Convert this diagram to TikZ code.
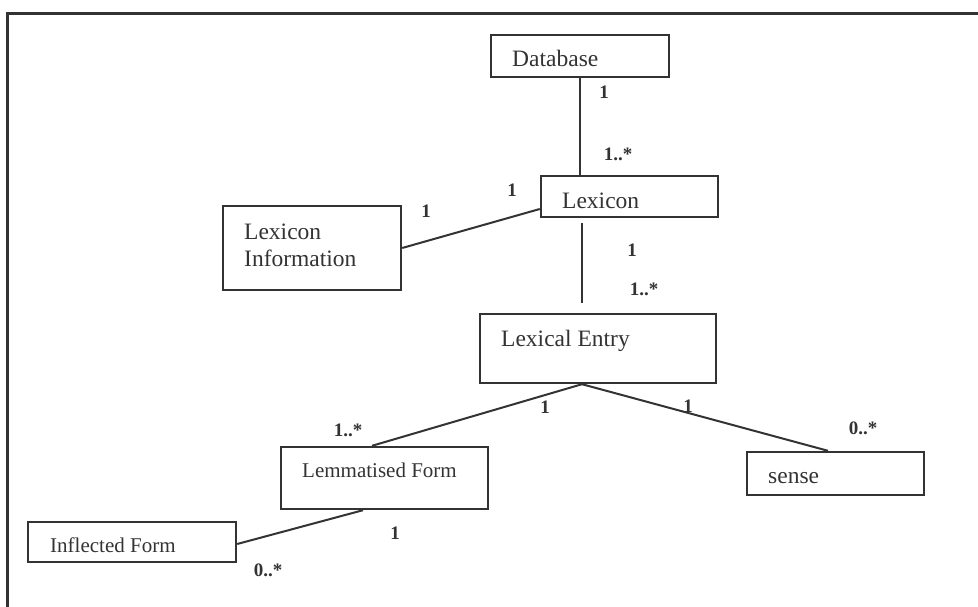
\documentclass[tikz,border=0pt]{standalone}
\usepackage{fontspec}
\setmainfont{Liberation Serif}
\usetikzlibrary{calc}
\definecolor{ink}{HTML}{333333}
\tikzset{
  box/.style={draw=ink, line width=2.4pt, rectangle, inner sep=0pt},
  assoc/.style={draw=ink, line width=2pt},
  clsname/.style={anchor=west, inner sep=0pt, text=ink, font=\fontsize{23.5}{28}\selectfont},
  clssmall/.style={anchor=west, inner sep=0pt, text=ink, font=\fontsize{21}{25}\selectfont},
  mult/.style={inner sep=0pt, text=ink, font=\fontsize{19}{22}\selectfont\bfseries}
}
\begin{document}
\begin{tikzpicture}[x=1pt,y=-1pt]
\useasboundingbox (0,0) rectangle (978,607);
% open frame: top and left edges
\draw[ink, line width=2.2pt] (7.5,607) -- (7.5,13.5) -- (978,13.5);

% class boxes
\node[box, minimum width=178pt, minimum height=42pt] (db)   at (580,56) {};
\node[box, minimum width=177pt, minimum height=41pt] (lex)  at (629.5,196.5) {};
\node[box, minimum width=178pt, minimum height=84pt] (info) at (312,248) {};
\node[box, minimum width=236pt, minimum height=69pt] (le)   at (598,348.5) {};
\node[box, minimum width=207pt, minimum height=62pt] (lem)  at (384.5,478) {};
\node[box, minimum width=177pt, minimum height=43pt] (sen)  at (835.5,473.5) {};
\node[box, minimum width=208pt, minimum height=40pt] (inf)  at (132,542) {};

% class names
\node[clsname]  (dbT)   at (512,58)  {Database};
\node[clsname]  (lexT)  at (562,201) {Lexicon};
\node[clsname, align=left, font=\fontsize{23.5}{27}\selectfont] (infoT) at (244,245) {Lexicon\\Information};
\node[clsname]  (leT)   at (501,341) {Lexical Entry};
\node[clssmall] (lemT)  at (302,470) {Lemmatised Form};
\node[clsname]  (senT)  at (768,478) {sense};
\node[clssmall] (infT)  at (50,545)  {Inflected Form};

% associations
\draw[assoc] (db.south) -- (db.south |- lex.north);
\draw[assoc] (info.east) -- ([yshift=-12.5pt]lex.west);
\draw[assoc] ($(lex.south)+(-47.5,5)$) -- ($(le.north)+(-16,-10)$);
\coordinate (apex) at ($(le.south)+(-16,0)$);
\draw[assoc] (apex) -- ($(lem.north)+(-12.5,0)$);
\draw[assoc] (apex) -- ($(sen.north)+(-7.5,0)$);
\draw[assoc] ($(lem.south)+(-21.5,0)$) -- ([yshift=-2pt]inf.east);

% multiplicities
\node[mult] (m1)  at (604,92)  {1};
\node[mult] (m2)  at (618,154) {1..*};
\node[mult] (m3)  at (512,190) {1};
\node[mult] (m4)  at (426,211) {1};
\node[mult] (m5)  at (632,250) {1};
\node[mult] (m6)  at (644,289) {1..*};
\node[mult] (m7)  at (348,430) {1..*};
\node[mult] (m8)  at (545,407) {1};
\node[mult] (m9)  at (688,406) {1};
\node[mult] (m10) at (863,428) {0..*};
\node[mult] (m11) at (395,533) {1};
\node[mult] (m12) at (268,570) {0..*};
\end{tikzpicture}
\end{document}
